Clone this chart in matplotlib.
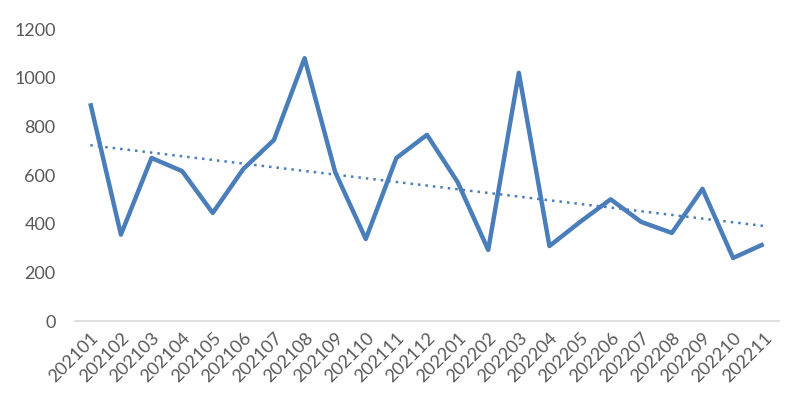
import numpy as np
import matplotlib
matplotlib.use("Agg")
import matplotlib.pyplot as plt

months = ["202101", "202102", "202103", "202104", "202105", "202106", "202107",
          "202108", "202109", "202110", "202111", "202112", "202201", "202202",
          "202203", "202204", "202205", "202206", "202207", "202208", "202209",
          "202210", "202211"]
values = [895, 355, 670, 616, 444, 625, 744, 1080, 612, 337, 670, 765, 571, 292,
          1020, 308, 407, 500, 407, 362, 543, 259, 316]

plt.rcParams['font.family'] = ['Lato', 'DejaVu Sans']

fig = plt.figure(figsize=(7.93, 4.03), dpi=100)
ax = fig.add_axes([75/793, 82/403, 704/793, 292/403])

x = np.arange(len(months))
color = "#4A7EBB"
ax.plot(x, values, color=color, linewidth=3.2, solid_joinstyle='round',
        solid_capstyle='butt', zorder=3)

coef = np.polyfit(x, values, 1)
ax.plot(x, np.polyval(coef, x), color=color, linewidth=1.8, linestyle=(0, (1, 2.0)), zorder=2)

ax.set_xlim(-0.5, len(months) - 0.5)
ax.set_ylim(0, 1200)
ax.set_yticks(range(0, 1201, 200))
ax.set_xticks(x)
ax.set_xticklabels(months, rotation=45, ha='right', va='top', rotation_mode='anchor',
                   fontsize=13)

for s in ['top', 'right', 'left']:
    ax.spines[s].set_visible(False)
ax.spines['bottom'].set_color('#D9D9D9')
ax.spines['bottom'].set_linewidth(1.2)
ax.tick_params(axis='both', length=0, colors='#595959')
ax.tick_params(axis='y', pad=14, labelsize=13)
ax.tick_params(axis='x', pad=6)

fig.savefig("out.png", dpi=100)
